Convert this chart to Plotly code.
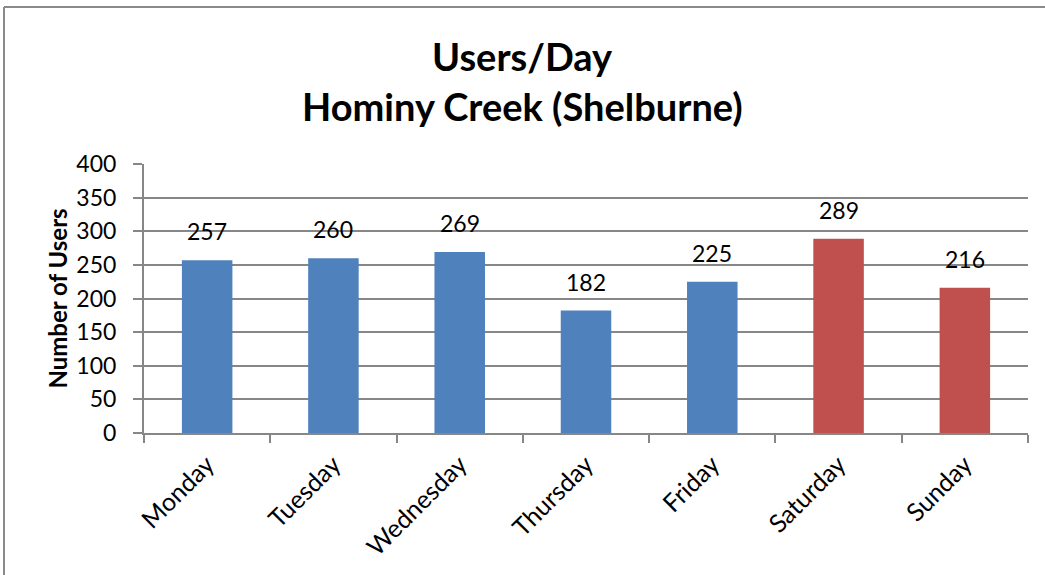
import plotly.graph_objects as go

days = ["Monday", "Tuesday", "Wednesday", "Thursday", "Friday", "Saturday", "Sunday"]
users = [257, 260, 269, 182, 225, 289, 216]
bar_colors = ["#4F81BD"] * 5 + ["#C0504D"] * 2
title_lines = ["Users/Day", "Hominy Creek (Shelburne)"]
y_title = "Number of Users"

FONT = "Lato"
GRID = "#878787"

L, T, B, W, H = 144, 164, 142, 1045, 575
pw = W - L - 17
ph = H - T - B
def px(x):
    return (x - L) / pw
def py(y):
    return (H - B - y) / ph

fig = go.Figure()
fig.add_trace(go.Bar(x=days, y=users, marker=dict(color=bar_colors, line=dict(width=0)),
                     hoverinfo="x+y"))

annotations = []
for d, v in zip(days, users):
    annotations.append(dict(x=d, y=v, xref="x", yref="y", text=str(v), showarrow=False,
                            yanchor="bottom", yshift=13,
                            font=dict(family=FONT, size=23, color="black")))
annotations.append(dict(x=px(522.5), y=py(56), xref="paper", yref="paper", text="<b>%s</b>" % title_lines[0],
                        showarrow=False, yanchor="middle", xanchor="center",
                        font=dict(family=FONT, size=38, color="black")))
annotations.append(dict(x=px(522.5), y=py(106), xref="paper", yref="paper", text="<b>%s</b>" % title_lines[1],
                        showarrow=False, yanchor="middle", xanchor="center",
                        font=dict(family=FONT, size=38, color="black")))

shapes = [
    dict(type="line", xref="paper", yref="paper", x0=px(4), x1=px(4), y0=py(7), y1=py(580),
         line=dict(color="#8a8a8a", width=2)),
    dict(type="line", xref="paper", yref="paper", x0=px(4), x1=px(1050), y0=py(7), y1=py(7),
         line=dict(color="#8a8a8a", width=2)),
]

fig.update_layout(
    width=W, height=H,
    margin=dict(l=L, r=17, t=T, b=B, autoexpand=False),
    paper_bgcolor="white", plot_bgcolor="white",
    bargap=0.6,
    showlegend=False,
    annotations=annotations,
    shapes=shapes,
    font=dict(family=FONT, color="black"),
)
fig.update_xaxes(
    showline=True, linecolor=GRID, linewidth=2,
    ticks="outside", tickson="boundaries", ticklen=8, tickcolor=GRID, tickwidth=2,
    tickangle=-45, tickfont=dict(family=FONT, size=25, color="black"),
    ticklabelstandoff=5,
    showgrid=False,
)
fig.update_yaxes(
    range=[0, 400], dtick=50, tick0=0,
    showline=True, linecolor=GRID, linewidth=2,
    ticks="outside", ticklen=9, tickcolor=GRID, tickwidth=2,
    showgrid=True, gridcolor=GRID, gridwidth=1.5,
    zeroline=False,
    tickfont=dict(family=FONT, size=23, color="black"),
    ticklabelstandoff=12,
    title=dict(text="<b>%s</b>" % y_title, font=dict(family=FONT, size=24, color="black"), standoff=2),
)

fig.write_html("out.html", config={"displayModeBar": False},
               post_script="document.body.style.margin='0';document.body.style.overflow='hidden';")
